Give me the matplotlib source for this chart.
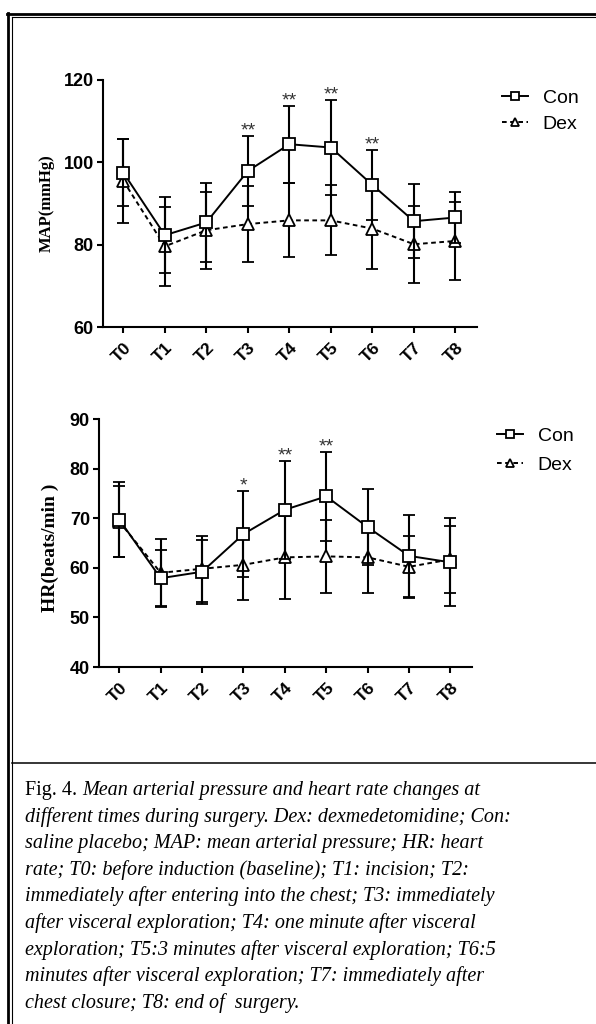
import matplotlib
matplotlib.use("Agg")
import matplotlib.pyplot as plt
from matplotlib.lines import Line2D

# time points
times = ["T0", "T1", "T2", "T3", "T4", "T5", "T6", "T7", "T8"]

# MAP (mmHg), mean and SD
map_con = [97.5, 82.3, 85.4, 97.9, 104.4, 103.6, 94.5, 85.7, 86.6]
map_con_sd = [8.2, 9.2, 9.7, 8.6, 9.4, 11.6, 8.6, 9.0, 6.2]
map_dex = [95.5, 79.6, 83.5, 85.0, 85.9, 85.9, 83.9, 80.1, 80.9]
map_dex_sd = [10.2, 9.6, 9.4, 9.3, 9.0, 8.5, 9.7, 9.4, 9.5]
map_sig = ["", "", "", "**", "**", "**", "**", "", ""]

# HR (beats/min), mean and SD
hr_con = [69.7, 57.9, 59.2, 66.8, 71.7, 74.4, 68.2, 62.4, 61.1]
hr_con_sd = [7.6, 5.6, 6.5, 8.7, 9.9, 9.0, 7.7, 8.3, 8.9]
hr_dex = [69.3, 59.0, 59.8, 60.6, 62.1, 62.3, 62.1, 60.2, 61.7]
hr_dex_sd = [7.2, 6.9, 6.6, 7.0, 8.4, 7.3, 7.1, 6.2, 6.8]
hr_sig = ["", "", "", "*", "**", "**", "", "", ""]

caption_lines = [
    "Mean arterial pressure and heart rate changes at",
    "different times during surgery. Dex: dexmedetomidine; Con:",
    "saline placebo; MAP: mean arterial pressure; HR: heart",
    "rate; T0: before induction (baseline); T1: incision; T2:",
    "immediately after entering into the chest; T3: immediately",
    "after visceral exploration; T4: one minute after visceral",
    "exploration; T5:3 minutes after visceral exploration; T6:5",
    "minutes after visceral exploration; T7: immediately after",
    "chest closure; T8: end of  surgery.",
]

W, H = 596, 1024
fig = plt.figure(figsize=(W / 100, H / 100), dpi=100)


def fx(px):
    return px / W


def fy(py):
    return 1 - py / H


sans = ["Liberation Sans", "DejaVu Sans"]
serif = ["Liberation Serif", "DejaVu Serif"]


def panel(rect, con, con_sd, dex, dex_sd, sig, ylim, yticks, ylabel, lab_xy, leg_xy, leg_sp):
    ax = fig.add_axes(rect)
    x = list(range(len(times)))
    c = ax.errorbar(x, con, yerr=con_sd, color="black", lw=1.4, marker="s",
                    ms=8, mfc="white", mec="black", mew=1.3,
                    elinewidth=1.5, capsize=4.3, capthick=1.5, zorder=3)
    d = ax.errorbar(x, dex, yerr=dex_sd, color="black", lw=1.4, ls=(0, (2.4, 1.8)),
                    marker="^", ms=8, mfc="white", mec="black", mew=1.3,
                    elinewidth=1.5, capsize=4.3, capthick=1.5, zorder=2)
    for i, s in enumerate(sig):
        if s:
            ax.annotate(s, (i, con[i] + con_sd[i]), xytext=(0, 0),
                        textcoords="offset points", ha="center", va="baseline",
                        fontsize=14, color="#333333", family=sans)
    ax.set_xlim(-0.49, 8.52)
    ax.set_ylim(*ylim)
    ax.set_yticks(yticks)
    ax.set_xticks(x)
    ax.set_xticklabels(times, rotation=45, ha="right", va="top",
                       rotation_mode="anchor", fontsize=12.5, fontweight="bold",
                       family=sans)
    for lab in ax.get_yticklabels():
        lab.set_fontsize(13)
        lab.set_fontweight("bold")
        lab.set_family(sans)
    ax.tick_params(axis="both", length=4.5, width=1.5, color="black", pad=2)
    ax.tick_params(axis="x", pad=5)
    for side in ["top", "right"]:
        ax.spines[side].set_visible(False)
    for side in ["left", "bottom"]:
        ax.spines[side].set_linewidth(1.5)
    fig.text(fx(lab_xy[0]), fy(lab_xy[1]), ylabel, rotation=90, ha="center",
             va="center", fontsize=lab_xy[2], fontweight="bold", family=serif)
    fig.legend([c.lines[0], d.lines[0]], ["Con", "Dex"], loc="upper left",
               bbox_to_anchor=(fx(leg_xy[0]), fy(leg_xy[1])), frameon=False,
               borderpad=0, borderaxespad=0, handlelength=1.35,
               handletextpad=0.75, labelspacing=leg_sp, markerscale=0.8,
               prop={"family": sans, "size": 14})
    return ax


panel([fx(103), fy(327), fx(477) - fx(103), fy(80) - fy(327)],
      map_con, map_con_sd, map_dex, map_dex_sd, map_sig,
      (60, 120), [60, 80, 100, 120], "MAP(mmHg)", (47, 203, 12), (502, 89), 0.45)

panel([fx(99), fy(667), fx(472) - fx(99), fy(419) - fy(667)],
      hr_con, hr_con_sd, hr_dex, hr_dex_sd, hr_sig,
      (40, 90), [40, 50, 60, 70, 80, 90], "HR(beats/min )", (50, 548, 14), (497, 427), 0.6)

# frame around the figure
frame = [
    ((7, W), (14, 14), 2.0),
    ((12, W), (17, 17), 0.8),
    ((8, 8), (13, H), 2.0),
    ((12, 12), (17, H), 0.8),
    ((12, W), (763, 763), 1.1),
]
for xs, ys, lw in frame:
    fig.add_artist(Line2D([fx(v) for v in xs], [fy(v) for v in ys],
                          color="black", lw=lw))

# caption
cap_x, cap_y, cap_dy = 25, 790, 26.6
renderer = fig.canvas.get_renderer()
t = fig.text(fx(cap_x), fy(cap_y), "Fig. 4. ", ha="left", va="center",
             fontsize=14.5, family=serif)
bb = t.get_window_extent(renderer)
fig.text(bb.x1 / W, fy(cap_y), caption_lines[0], ha="left", va="center",
         fontsize=14.5, style="italic", family=serif)
for k, line in enumerate(caption_lines[1:], start=1):
    fig.text(fx(cap_x), fy(cap_y + k * cap_dy), line, ha="left", va="center",
             fontsize=14.5, style="italic", family=serif)

fig.savefig("out.png", dpi=100)
